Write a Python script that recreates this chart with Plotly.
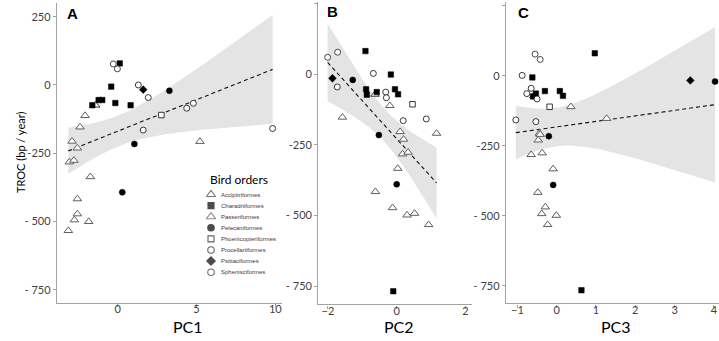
import numpy as np
import plotly.graph_objects as go

# ---------------- data ----------------
ORDER_NAMES = {
    "AC": "Accipitriformes", "CH": "Charadriiformes", "PA": "Passeriformes",
    "PE": "Pelecaniformes", "PH": "Phoenicopteriformes", "PR": "Procellariiformes",
    "PS": "Psittaciformes", "SP": "Sphenisciformes",
}
LEGEND_ORDER = ["AC", "CH", "PA", "PE", "PH", "PR", "PS", "SP"]

# Panel A : PC1
A_ORDER = ["CH"] * 7 + ["SP"] * 2 + ["PR"] * 6 + ["PH"] + ["PS"] + ["PE"] * 3 + ["AC"] + ["PA"] * 13
A_PC1 = [0.13, -0.41, -1.21, -0.98, -1.61, -0.15, 0.82,
         -0.28, -0.02,
         1.31, 1.94, 1.62, 4.38, 4.80, 9.83,
         2.77,
         1.62,
         3.28, 1.06, 0.29,
         -1.40,
         -2.07, -2.39, -2.90, -2.56, -3.07, -2.78, 5.22, -1.74, -2.56, -2.56, -2.75, -1.84, -3.13]
A_TROC = [79, -6, -55, -55, -74, -66, -74,
          77, 59,
          0, -46, -165, -85, -67, -159,
          -110,
          -17,
          -21, -216, -393,
          -74,
          -112, -154, -206, -231, -282, -276, -207, -336, -417, -472, -494, -500, -533]

# Panel B : PC2
B_ORDER = ["CH"] * 8 + ["SP"] * 2 + ["PR"] * 6 + ["PH"] + ["PS"] + ["PE"] * 3 + ["AC"] + ["PA"] * 13
B_PC2 = [-0.91, -0.89, -0.87, -0.58, -0.17, -0.05, 0.04, -0.10,
         -1.72, -2.01,
         -0.68, -1.73, -0.32, -0.30, 0.19, 0.86,
         0.46,
         -1.87,
         -1.28, -0.52, 0.00,
         -0.63,
         -1.58, -0.20, 1.16, 0.10, 0.20, 0.17, 0.33, 0.03, -0.62, -0.12, 0.30, 0.52, 0.93]
B_TROC = [81, -54, -73, -64, -2, -54, -72, -768,
          77, 59,
          2, -46, -64, -84, -165, -159,
          -107,
          -15,
          -21, -216, -390,
          -72,
          -153, -112, -210, -204, -231, -283, -277, -334, -416, -473, -499, -493, -533]

# Panel C : PC3
C_ORDER = ["CH"] * 8 + ["SP"] * 2 + ["PR"] * 6 + ["PH"] + ["PS"] + ["PE"] * 3 + ["AC"] + ["PA"] * 13
C_PC3 = [-0.62, -0.53, -0.60, -0.30, 0.08, 0.16, 0.97, 0.63,
         -0.55, -0.42,
         -0.88, -0.65, -0.76, -0.50, -1.04, -0.53,
         -0.18,
         3.40,
         4.03, -0.20, -0.09,
         -0.58,
         0.36, 1.27, -0.44, -0.42, -0.47, -0.65, -0.37, -0.09, -0.48, -0.29, -0.38, -0.01, -0.23]
C_TROC = [-6, -64, -74, -55, -55, -72, 80, -766,
          77, 58,
          1, -45, -64, -83, -158, -164,
          -111,
          -17,
          -21, -216, -390,
          -72,
          -111, -153, -206, -210, -230, -282, -276, -333, -417, -469, -493, -499, -532]

Y_TICKS = [250, 0, -250, -500, -750]
Y_TICKTEXT = ["250", "0", "-250", "- 500", "- 750"]
A_XTICKS = [0, 5, 10]
B_XTICKS = [-2, 0, 2]
C_XTICKS = [-1, 0, 1, 2, 3, 4]

# ---------------- styles ----------------
STYLE = {
    "AC": dict(symbol="triangle-up", size=7.5, color="white", line=dict(color="#3a3a3a", width=1)),
    "CH": dict(symbol="square", size=5.5, color="black", line=dict(color="black", width=0.5)),
    "PA": dict(symbol="triangle-up", size=7.5, color="white", line=dict(color="#5e5e5e", width=1)),
    "PE": dict(symbol="circle", size=6, color="black", line=dict(color="black", width=0.5)),
    "PH": dict(symbol="square", size=5.5, color="white", line=dict(color="#222222", width=0.9)),
    "PR": dict(symbol="circle", size=6, color="white", line=dict(color="#222222", width=0.9)),
    "PS": dict(symbol="diamond", size=6, color="black", line=dict(color="black", width=0.5)),
    "SP": dict(symbol="circle", size=6, color="white", line=dict(color="#333333", width=0.9)),
}

W, H = 719, 341


def fx(px):
    return px / W


def fy(py):
    return 1 - py / H


def tq(df):
    z = 1.959964
    return z + (z ** 3 + z) / (4 * df) + (5 * z ** 5 + 16 * z ** 3 + 3 * z) / (96 * df ** 2)


def ols_band(x, y):
    x = np.asarray(x, float)
    y = np.asarray(y, float)
    n = len(x)
    xm, ym = x.mean(), y.mean()
    sxx = ((x - xm) ** 2).sum()
    b = ((x - xm) * (y - ym)).sum() / sxx
    a = ym - b * xm
    s = np.sqrt(((y - a - b * x) ** 2).sum() / (n - 2))
    xs = np.linspace(x.min(), x.max(), 150)
    fit = a + b * xs
    se = s * np.sqrt(1 / n + (xs - xm) ** 2 / sxx)
    t = tq(n - 2)
    return xs, fit, fit - t * se, fit + t * se


fig = go.Figure()

panels = [
    ("x", "y", A_PC1, A_TROC, A_ORDER),
    ("x2", "y2", B_PC2, B_TROC, B_ORDER),
    ("x3", "y3", C_PC3, C_TROC, C_ORDER),
]

for xa, ya, xv, yv, ov in panels:
    xs, fit, lo, hi = ols_band(xv, yv)
    fig.add_trace(go.Scatter(
        x=np.concatenate([xs, xs[::-1]]), y=np.concatenate([hi, lo[::-1]]),
        fill="toself", fillcolor="#e4e4e4", line=dict(width=0), mode="lines",
        hoverinfo="skip", xaxis=xa, yaxis=ya, showlegend=False))
    fig.add_trace(go.Scatter(
        x=xs, y=fit, mode="lines", line=dict(color="#111111", width=1.1, dash="4px,3px"),
        xaxis=xa, yaxis=ya, showlegend=False))
    for code in LEGEND_ORDER:
        idx = [i for i, o in enumerate(ov) if o == code]
        if not idx:
            continue
        st = STYLE[code]
        fig.add_trace(go.Scatter(
            x=[xv[i] for i in idx], y=[yv[i] for i in idx], mode="markers",
            name=ORDER_NAMES[code],
            marker=dict(symbol=st["symbol"], size=st["size"], color=st["color"], line=st["line"]),
            xaxis=xa, yaxis=ya, showlegend=False))

# legend drawn on a full-page helper axis measured in pixels
leg_y = [194.5 + 11.1 * i for i in range(len(LEGEND_ORDER))]
fig.add_trace(go.Scatter(
    x=[211] * len(LEGEND_ORDER), y=leg_y, mode="markers",
    marker=dict(symbol=[STYLE[c]["symbol"] for c in LEGEND_ORDER],
                size=[STYLE[c]["size"] + 0.5 for c in LEGEND_ORDER],
                color=[STYLE[c]["color"] for c in LEGEND_ORDER],
                line=dict(color=[STYLE[c]["line"]["color"] for c in LEGEND_ORDER], width=1.1)),
    xaxis="x4", yaxis="y4", showlegend=False, hoverinfo="skip"))

TICKFONT = dict(family="Lato, Calibri, sans-serif", size=11, color="#3f3f3f")
AX = dict(showline=True, linecolor="#a3a3a3", linewidth=1.4, ticks="outside", ticklen=3,
          tickcolor="#a3a3a3", tickwidth=1, showgrid=False, zeroline=False, tickfont=TICKFONT)
XAX = dict(AX, ticklabelstandoff=-7)

fig.update_layout(
    width=W, height=H, margin=dict(l=0, r=0, t=0, b=0),
    paper_bgcolor="white", plot_bgcolor="rgba(0,0,0,0)", showlegend=False,
    xaxis=dict(domain=[fx(57), fx(282)], range=[-3.851, 10.425], tickvals=A_XTICKS, anchor="y", **XAX),
    yaxis=dict(domain=[fy(303), fy(3)], range=[-797.9, 300.1], tickvals=Y_TICKS, ticktext=Y_TICKTEXT, anchor="x", **AX),
    xaxis2=dict(domain=[fx(318.3), fx(471.7)], range=[-2.282, 2.183], tickvals=B_XTICKS, anchor="y2", **XAX),
    yaxis2=dict(domain=[fy(304.3), fy(2)], range=[-814.3, 254.6], tickvals=Y_TICKS, ticktext=Y_TICKTEXT, anchor="x2", **AX),
    xaxis3=dict(domain=[fx(506), 1.0], range=[-1.290, 4.130], tickvals=C_XTICKS, anchor="y3", **XAX),
    yaxis3=dict(domain=[fy(303.3), fy(2)], range=[-812.8, 263.2], tickvals=Y_TICKS, ticktext=Y_TICKTEXT, anchor="x3", **AX),
    xaxis4=dict(domain=[0, 1], range=[0, W], visible=False, anchor="y4", fixedrange=True),
    yaxis4=dict(domain=[0, 1], range=[H, 0], visible=False, anchor="x4", fixedrange=True),
)

ann = []


def add_text(text, px, py, size, family="Lato, Calibri, sans-serif", color="black", xanchor="center", angle=0):
    ann.append(dict(text=text, x=fx(px), y=fy(py), xref="paper", yref="paper", showarrow=False,
                    xanchor=xanchor, yanchor="middle", textangle=angle,
                    font=dict(size=size, family=family, color=color)))


add_text("PC1", 187.5, 326, 16)
add_text("PC2", 399, 326.5, 16)
add_text("PC3", 615.5, 326.5, 16)
add_text("TROC (bp / year)", 20, 153, 11, angle=-90)
add_text("<b>A</b>", 72, 14, 15, family="Arial, Liberation Sans, sans-serif")
add_text("<b>B</b>", 332.5, 12, 15, family="Arial, Liberation Sans, sans-serif")
add_text("<b>C</b>", 523, 13, 15, family="Arial, Liberation Sans, sans-serif")
add_text("Bird orders", 208, 179, 12, xanchor="left")
for c, yy in zip(LEGEND_ORDER, leg_y):
    add_text(ORDER_NAMES[c], 219, yy, 6, family="Arial, Liberation Sans, sans-serif",
             color="#4a3434", xanchor="left")

fig.update_layout(annotations=ann)
fig.write_html("out.html", config={"displayModeBar": False},
               post_script="document.body.style.margin='0';document.body.style.overflow='hidden';")
